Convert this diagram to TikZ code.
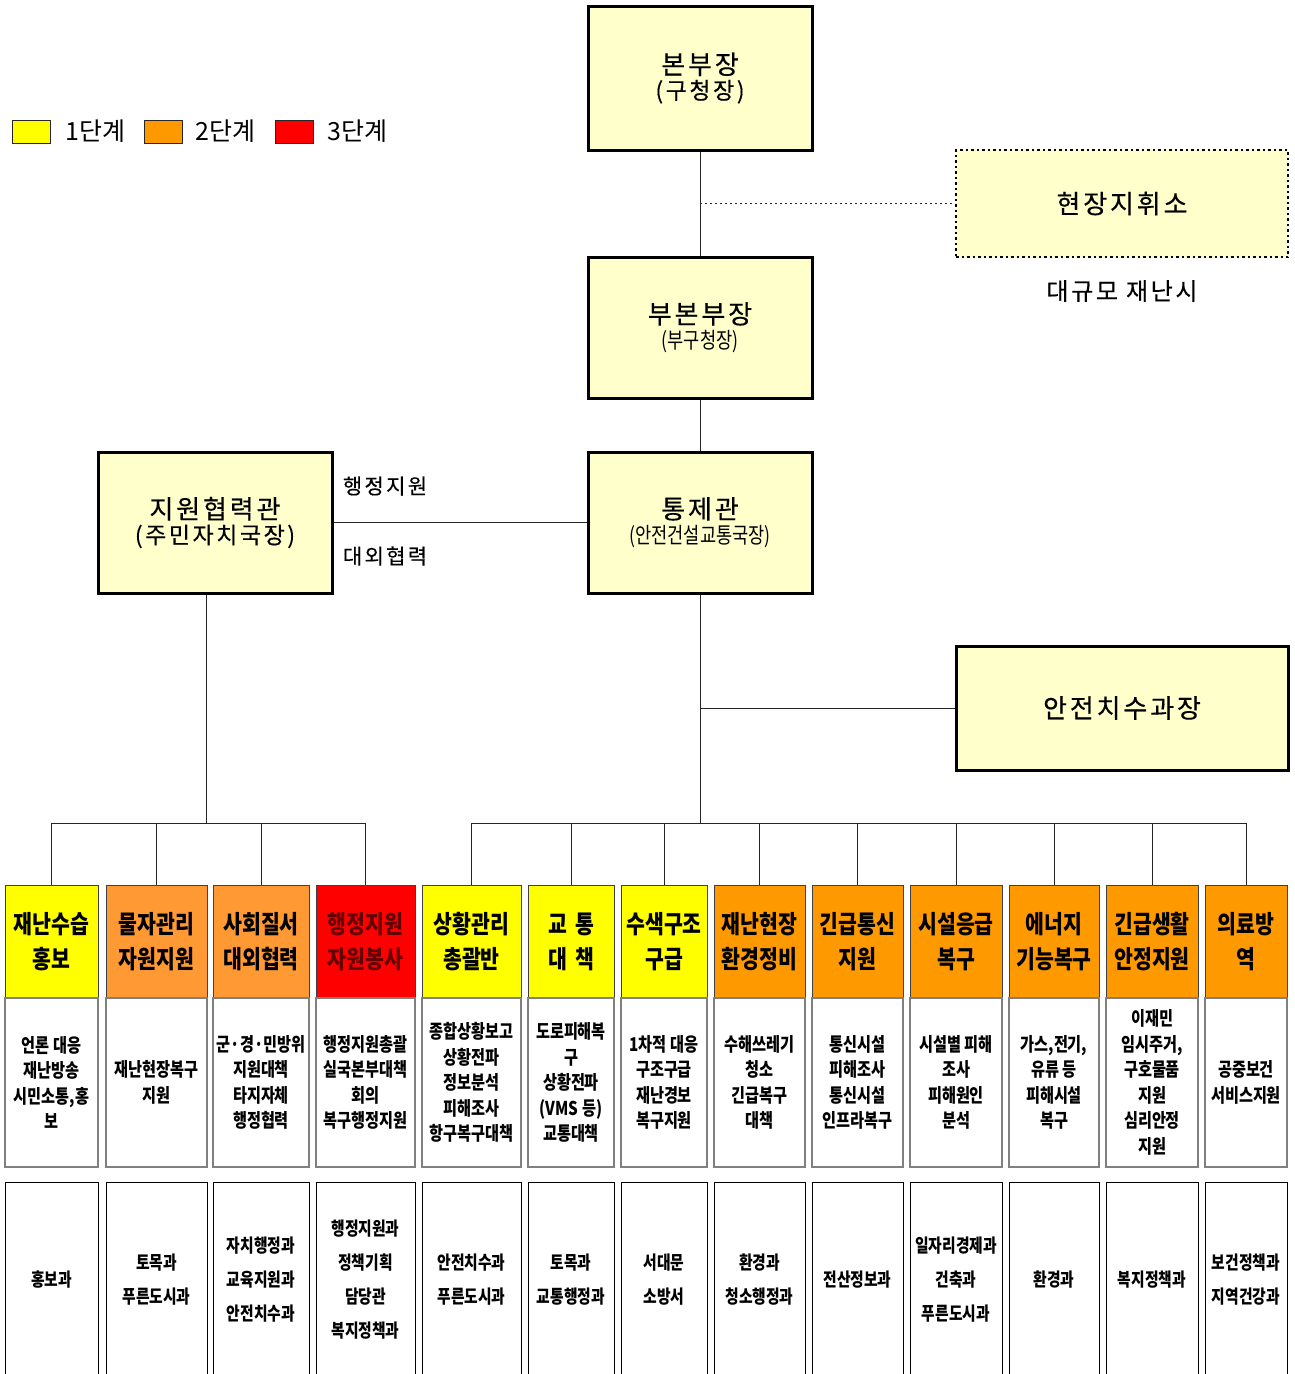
\documentclass[tikz,border=0pt]{standalone}
\usepackage{fontspec}
\setmainfont{Noto Sans CJK KR}
\newfontfamily\krc[FakeStretch=0.8]{Noto Sans CJK KR}
\newfontfamily\krh[FakeStretch=0.82]{Noto Sans CJK KR}
\newfontfamily\krw[LetterSpace=11,FakeBold=0.4]{Noto Sans CJK KR}

\definecolor{chiefyellow}{HTML}{FFFFCC}
\definecolor{stageyellow}{HTML}{FFFF00}
\definecolor{stageorange}{HTML}{FF9900}
\definecolor{stagepeach}{HTML}{FF9933}
\definecolor{stagered}{HTML}{FF0000}

\tikzset{
  chief/.style={draw,line width=3pt,fill=chiefyellow,inner sep=0pt,align=center,
    font=\krw\fontsize{26}{25}\selectfont},
  key/.style={draw=black!85,line width=1pt,minimum width=38,minimum height=23,inner sep=0pt},
  keytext/.style={anchor=west,inner sep=0pt,font=\fontsize{25}{26}\selectfont},
  tag/.style={inner sep=0pt,font=\krw\fontsize{21}{22}\selectfont},
  head/.style={draw=black!75,line width=1pt,minimum height=113,inner sep=0pt,align=center,
    font=\krh\bfseries\fontsize{25}{35}\selectfont},
  duty/.style={draw=black!50,line width=1.5pt,fill=white,minimum height=169,inner sep=0pt,
    align=center,font=\krc\bfseries\fontsize{19}{25.5}\selectfont},
  dept/.style={draw=black,line width=1pt,fill=white,minimum height=196,inner sep=0pt,
    align=center,font=\krc\bfseries\fontsize{18.5}{34}\selectfont},
  wire/.style={draw=black!85,line width=1pt}
}

\newcommand{\subline}[1]{{\krc\fontsize{22}{25}\selectfont #1}}

\begin{document}
\begin{tikzpicture}[x=1pt,y=-1pt]
  \useasboundingbox (0,0) rectangle (1294,1374);

  %% legend
  \node (keyone) at (31,131.5) [key,fill=stageyellow] {};
  \node (keyonetxt) at (65,131.5) [keytext] {1단계};
  \node (keytwo) at (163.5,131.5) [key,fill=stageorange] {};
  \node (keytwotxt) at (195,131.5) [keytext] {2단계};
  \node (keythree) at (294.5,131.5) [key,fill=stagered] {};
  \node (keythreetxt) at (327,131.5) [keytext] {3단계};

  %% command boxes
  \node (hq) at (700,78) [chief,minimum width=224,minimum height=144]
    {본부장\\{\fontsize{23}{25}\selectfont(구청장)}};
  \node (field) at (1122,203.5) [chief,line width=2pt,dash pattern=on 2.5pt off 3pt,
    minimum width=332,minimum height=107] {현장지휘소};
  \node (fieldnote) at (1122,291) [inner sep=0pt,font=\krw\fontsize{24}{26}\selectfont] {대규모 재난시};
  \node (dhq) at (700,327.5) [chief,minimum width=224,minimum height=141]
    {부본부장\\\subline{(부구청장)}};
  \node (ctrl) at (700,522.5) [chief,minimum width=224,minimum height=141]
    {통제관\\\subline{(안전건설교통국장)}};
  \node (supp) at (215,522.5) [chief,minimum width=234,minimum height=141]
    {지원협력관\\{\fontsize{23}{25}\selectfont(주민자치국장)}};
  \node (flood) at (1122,708) [chief,minimum width=332,minimum height=124] {안전치수과장};
  \node (admin) at (385,486) [tag] {행정지원};
  \node (coop) at (385,556) [tag] {대외협력};

  %% headings
  \node (h1) at (51.5,941.5) [head,fill=stageyellow,minimum width=93] {재난수습\\홍보};
  \node (h2) at (156.5,941.5) [head,fill=stagepeach,minimum width=101] {물자관리\\자원지원};
  \node (h3) at (261,941.5) [head,fill=stagepeach,minimum width=96] {사회질서\\대외협력};
  \node (h4) at (365.5,941.5) [head,fill=stagered,text=red!40!black,minimum width=99] {행정지원\\자원봉사};
  \node (h5) at (471.5,941.5) [head,fill=stageyellow,minimum width=99] {상황관리\\총괄반};
  \node (h6) at (571,941.5) [head,fill=stageyellow,minimum width=86] {교\hspace{8pt}통\\대\hspace{8pt}책};
  \node (h7) at (664,941.5) [head,fill=stageyellow,minimum width=86] {수색구조\\구급};
  \node (h8) at (759.5,941.5) [head,fill=stageorange,minimum width=91] {재난현장\\환경정비};
  \node (h9) at (857.5,941.5) [head,fill=stageorange,minimum width=91] {긴급통신\\지원};
  \node (h10) at (956,941.5) [head,fill=stageorange,minimum width=92] {시설응급\\복구};
  \node (h11) at (1054,941.5) [head,fill=stageorange,minimum width=90] {에너지\\기능복구};
  \node (h12) at (1152,941.5) [head,fill=stageorange,minimum width=92] {긴급생활\\안정지원};
  \node (h13) at (1246,941.5) [head,fill=stageorange,minimum width=82] {의료방\\역};

  %% duties
  \node (d1) at (51.5,1082.5) [duty,minimum width=93] {언론 대응\\재난방송\\시민소통,홍\\보};
  \node (d2) at (156.5,1082.5) [duty,minimum width=101] {재난현장복구\\지원};
  \node (d3) at (261,1082.5) [duty,minimum width=96] {군·경·민방위\\지원대책\\타지자체\\행정협력};
  \node (d4) at (365.5,1082.5) [duty,minimum width=99] {행정지원총괄\\실국본부대책\\회의\\복구행정지원};
  \node (d5) at (471.5,1082.5) [duty,minimum width=99] {종합상황보고\\상황전파\\정보분석\\피해조사\\항구복구대책};
  \node (d6) at (571,1082.5) [duty,minimum width=86] {도로피해복\\구\\상황전파\\(VMS 등)\\교통대책};
  \node (d7) at (664,1082.5) [duty,minimum width=86] {1차적 대응\\구조구급\\재난경보\\복구지원};
  \node (d8) at (759.5,1082.5) [duty,minimum width=91] {수해쓰레기\\청소\\긴급복구\\대책};
  \node (d9) at (857.5,1082.5) [duty,minimum width=91] {통신시설\\피해조사\\통신시설\\인프라복구};
  \node (d10) at (956,1082.5) [duty,minimum width=92] {시설별 피해\\조사\\피해원인\\분석};
  \node (d11) at (1054,1082.5) [duty,minimum width=90] {가스,전기,\\유류 등\\피해시설\\복구};
  \node (d12) at (1152,1082.5) [duty,minimum width=92] {이재민\\임시주거,\\구호물품\\지원\\심리안정\\지원};
  \node (d13) at (1246,1082.5) [duty,minimum width=82] {공중보건\\서비스지원};

  %% departments
  \node (u1) at (51.5,1280) [dept,minimum width=93] {홍보과};
  \node (u2) at (156.5,1280) [dept,minimum width=101] {토목과\\푸른도시과};
  \node (u3) at (261,1280) [dept,minimum width=96] {자치행정과\\교육지원과\\안전치수과};
  \node (u4) at (365.5,1280) [dept,minimum width=99] {행정지원과\\정책기획\\담당관\\복지정책과};
  \node (u5) at (471.5,1280) [dept,minimum width=99] {안전치수과\\푸른도시과};
  \node (u6) at (571,1280) [dept,minimum width=86] {토목과\\교통행정과};
  \node (u7) at (664,1280) [dept,minimum width=86] {서대문\\소방서};
  \node (u8) at (759.5,1280) [dept,minimum width=91] {환경과\\청소행정과};
  \node (u9) at (857.5,1280) [dept,minimum width=91] {전산정보과};
  \node (u10) at (956,1280) [dept,minimum width=92] {일자리경제과\\건축과\\푸른도시과};
  \node (u11) at (1054,1280) [dept,minimum width=90] {환경과};
  \node (u12) at (1152,1280) [dept,minimum width=92] {복지정책과};
  \node (u13) at (1246,1280) [dept,minimum width=82] {보건정책과\\지역건강과};

  %% connectors
  \draw[wire] (hq) -- (dhq);
  \draw[wire] (dhq) -- (ctrl);
  \draw[wire,line width=1.5pt,dash pattern=on 2pt off 3pt] (hq.south |- field.west) -- (field.west);
  \draw[wire] (supp) -- (ctrl);
  \draw[wire] (ctrl.south |- flood.west) -- (flood.west);

  \coordinate (lbus) at (206,823);
  \coordinate (rbus) at (700,823);
  \draw[wire] (supp.south -| lbus) -- (lbus);
  \draw[wire] (ctrl) -- (rbus);
  \draw[wire] (h1.north |- lbus) -- (h4.north |- lbus);
  \draw[wire] (h5.north |- rbus) -- (h13.north |- rbus);
  \draw[wire] (h1.north |- lbus) -- (h1.north);
  \draw[wire] (h2.north |- lbus) -- (h2.north);
  \draw[wire] (h3.north |- lbus) -- (h3.north);
  \draw[wire] (h4.north |- lbus) -- (h4.north);
  \draw[wire] (h5.north |- rbus) -- (h5.north);
  \draw[wire] (h6.north |- rbus) -- (h6.north);
  \draw[wire] (h7.north |- rbus) -- (h7.north);
  \draw[wire] (h8.north |- rbus) -- (h8.north);
  \draw[wire] (h9.north |- rbus) -- (h9.north);
  \draw[wire] (h10.north |- rbus) -- (h10.north);
  \draw[wire] (h11.north |- rbus) -- (h11.north);
  \draw[wire] (h12.north |- rbus) -- (h12.north);
  \draw[wire] (h13.north |- rbus) -- (h13.north);

\end{tikzpicture}
\end{document}
